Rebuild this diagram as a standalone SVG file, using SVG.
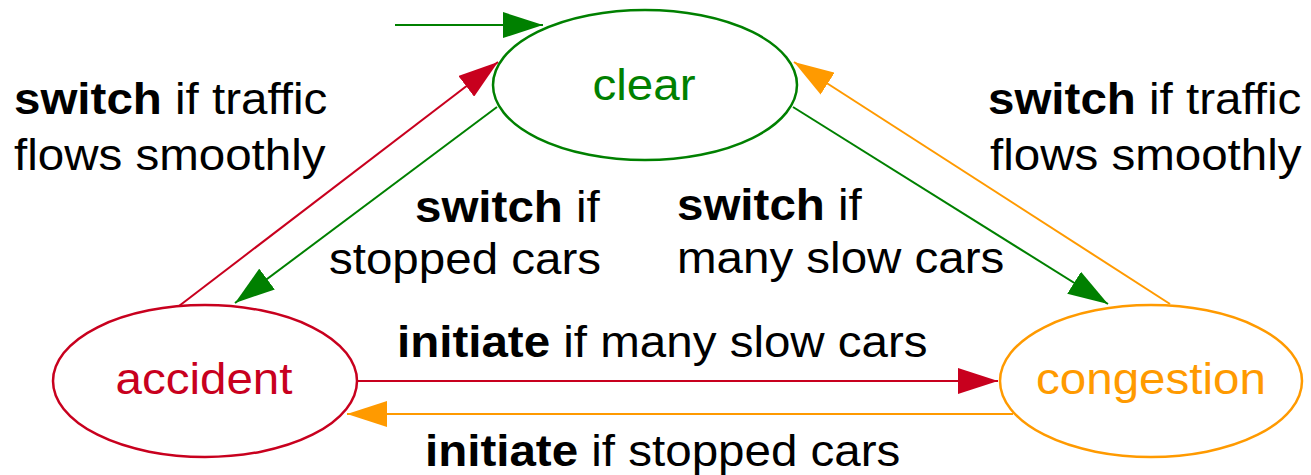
<svg xmlns="http://www.w3.org/2000/svg" width="1311" height="475" viewBox="0 0 1311 475">
  <style>
    text { font-family: "Liberation Sans", Arial, Helvetica, sans-serif; font-size: 44px; fill: #000; }
    .b { font-weight: bold; }
    .state { fill: #fff; stroke-width: 2.5; }
    .node-label { text-anchor: middle; }
    .edge { fill: none; stroke-width: 2; }
    .g { stroke: #008000; }
    .r { stroke: #c8001e; }
    .o { stroke: #ff9a00; }
  </style>
  <defs>
    <marker id="ah-green" markerUnits="userSpaceOnUse" markerWidth="40" markerHeight="26" refX="40" refY="13" orient="auto">
      <path d="M0,0 L40,13 L0,26 z" fill="#008000"/>
    </marker>
    <marker id="ah-red" markerUnits="userSpaceOnUse" markerWidth="40" markerHeight="26" refX="40" refY="13" orient="auto">
      <path d="M0,0 L40,13 L0,26 z" fill="#c8001e"/>
    </marker>
    <marker id="ah-orange" markerUnits="userSpaceOnUse" markerWidth="40" markerHeight="26" refX="40" refY="13" orient="auto">
      <path d="M0,0 L40,13 L0,26 z" fill="#ff9a00"/>
    </marker>
  </defs>

  <rect width="1311" height="475" fill="#fff"/>

  <!-- transitions -->
  <g id="connectors">
    <line class="edge g" x1="395" y1="25" x2="543" y2="25" marker-end="url(#ah-green)"/>
    <line class="edge r" x1="179" y1="306" x2="498" y2="62" marker-end="url(#ah-red)"/>
    <line class="edge g" x1="497" y1="107" x2="235" y2="303" marker-end="url(#ah-green)"/>
    <line class="edge g" x1="793" y1="107" x2="1108" y2="304" marker-end="url(#ah-green)"/>
    <line class="edge o" x1="1170" y1="304" x2="794" y2="62" marker-end="url(#ah-orange)"/>
    <line class="edge r" x1="357" y1="381" x2="998" y2="381" marker-end="url(#ah-red)"/>
    <line class="edge o" x1="1013" y1="414" x2="347" y2="414" marker-end="url(#ah-orange)"/>
  </g>

  <!-- states -->
  <g id="clear">
    <ellipse class="state" cx="645" cy="85" rx="152" ry="75" stroke="#008000"/>
    <text class="node-label" transform="translate(644,100) scale(1.08,1)" style="fill:#008000">clear</text>
  </g>
  <g id="accident">
    <ellipse class="state" cx="205" cy="381" rx="152" ry="76" stroke="#c8001e"/>
    <text class="node-label" transform="translate(204,394) scale(1.08,1)" style="fill:#c8001e">accident</text>
  </g>
  <g id="congestion">
    <ellipse class="state" cx="1151" cy="381" rx="151" ry="76" stroke="#ff9a00"/>
    <text class="node-label" transform="translate(1151,394) scale(1.08,1)" style="fill:#ff9a00">congestion</text>
  </g>

  <!-- transition labels -->
  <g id="labels">
    <text transform="translate(14,114) scale(1.08,1)"><tspan class="b">switch</tspan> if traffic</text>
    <text transform="translate(14,170) scale(1.08,1)">flows smoothly</text>

    <text transform="translate(988,114) scale(1.08,1)"><tspan class="b">switch</tspan> if traffic</text>
    <text transform="translate(990,170) scale(1.08,1)">flows smoothly</text>

    <text transform="translate(415,222) scale(1.08,1)"><tspan class="b">switch</tspan> if</text>
    <text transform="translate(329,274) scale(1.08,1)">stopped cars</text>

    <text transform="translate(677,220) scale(1.08,1)"><tspan class="b">switch</tspan> if</text>
    <text transform="translate(677,273) scale(1.08,1)">many slow cars</text>

    <text transform="translate(397,357) scale(1.08,1)"><tspan class="b">initiate</tspan> if many slow cars</text>
    <text transform="translate(425,466) scale(1.08,1)"><tspan class="b">initiate</tspan> if stopped cars</text>
  </g>
</svg>
